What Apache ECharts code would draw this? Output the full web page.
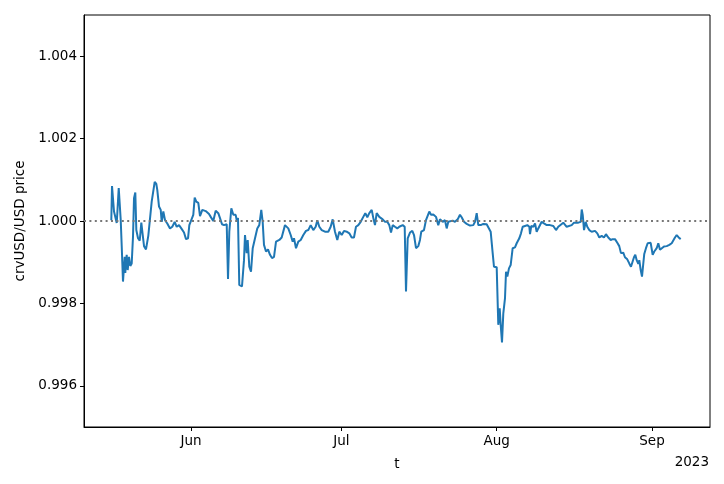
<!DOCTYPE html>
<html>
<head>
<meta charset="utf-8">
<script src="https://cdn.jsdelivr.net/npm/echarts@6/dist/echarts.min.js"></script>
<style>
  html, body { margin: 0; padding: 0; background: #fff; }
  #chart { width: 724px; height: 484px; }
</style>
</head>
<body>
<div id="chart"></div>
<script>
  // days since 2023-05-16 00:00 and the price read at that time
  const startDate = new Date(2023, 4, 16);
  const dayOffsets = [
    0.10, 0.24, 0.50, 0.64, 0.98, 1.18, 1.30, 1.58, 1.78, 1.98,
    2.18, 2.43, 2.77, 2.89, 3.17, 3.37, 3.63, 3.89, 4.17, 4.43,
    4.63, 4.89, 5.09, 5.43, 5.77, 6.09, 6.29, 6.63, 7.02, 7.28,
    7.48, 7.82, 8.16, 8.42, 8.76, 9.08, 9.28, 9.62, 9.96, 10.16,
    10.48, 10.82, 11.27, 11.81, 12.27, 12.75, 13.15, 13.61, 14.07, 14.61,
    15.01, 15.41, 15.67, 16.06, 16.46, 16.74, 17.06, 17.46, 17.80, 18.26,
    18.94, 19.60, 19.94, 20.45, 20.93, 21.45, 21.79, 22.19, 22.59, 23.13,
    23.39, 23.65, 24.05, 24.45, 24.92, 25.12, 25.38, 25.64, 26.18, 26.58,
    26.78, 27.12, 27.32, 27.64, 27.98, 28.32, 28.78, 29.23, 29.63, 30.03,
    30.31, 30.57, 30.97, 31.37, 31.77, 32.17, 32.57, 32.97, 33.63, 34.10,
    34.76, 35.42, 35.90, 36.30, 36.56, 36.96, 37.42, 37.90, 38.42, 38.95,
    39.41, 39.89, 40.41, 40.89, 41.21, 41.61, 42.09, 42.74, 43.40, 43.88,
    44.28, 44.74, 45.20, 45.60, 46.08, 46.54, 47.08, 47.60, 48.07, 48.53,
    48.93, 49.39, 49.87, 50.39, 50.79, 51.19, 51.59, 52.07, 52.39, 52.72,
    53.06, 53.58, 53.72, 54.26, 54.72, 55.18, 55.58, 55.92, 56.26, 56.71,
    57.17, 57.57, 57.91, 58.25, 58.65, 58.91, 59.25, 59.71, 60.17, 60.51,
    60.91, 61.36, 61.70, 61.96, 62.50, 62.90, 63.24, 63.56, 63.90, 64.36,
    64.90, 65.35, 65.69, 66.23, 66.69, 67.03, 67.35, 67.69, 68.23, 68.69,
    69.23, 69.68, 70.02, 70.48, 71.02, 71.68, 72.34, 72.68, 73.02, 73.34,
    73.82, 74.34, 75.01, 75.33, 75.81, 76.21, 76.47, 77.01, 77.33, 77.61,
    77.81, 78.07, 78.33, 78.67, 78.87, 79.13, 79.46, 79.80, 80.20, 80.66,
    81.00, 81.52, 81.86, 82.20, 82.66, 83.12, 83.52, 83.66, 83.92, 84.32,
    84.66, 84.99, 85.31, 85.65, 85.99, 86.45, 86.99, 87.65, 88.31, 88.85,
    89.30, 89.65, 90.30, 90.98, 91.30, 91.98, 92.44, 93.30, 93.78, 93.98,
    94.18, 94.44, 94.77, 95.09, 95.49, 95.97, 96.63, 97.09, 97.49, 97.96,
    98.42, 98.82, 99.28, 99.76, 100.16, 100.62, 101.08, 101.47, 101.81, 102.27,
    102.61, 103.07, 103.47, 103.81, 104.15, 104.41, 104.67, 104.95, 105.27, 105.47,
    105.75, 106.01, 106.27, 106.46, 106.80, 107.14, 107.46, 107.74, 108.14, 108.46,
    108.94, 109.26, 109.60, 109.94, 110.40, 110.94, 111.46, 111.94, 112.25, 112.59,
    112.93, 113.33, 113.73
  ];
  const prices = [
    1.00002, 1.00085, 1.00085, 1.00023, 1.00020, 0.99995, 1.00019, 1.00080, 1.00080, 1.00002,
    0.99938, 0.99853, 0.99913, 0.99874, 0.99918, 0.99881, 0.99913, 0.99891, 0.99897, 0.99962,
    1.00055, 1.00069, 0.99978, 0.99958, 0.99952, 0.99996, 0.99974, 0.99939, 0.99931, 0.99934,
    0.99964, 0.99964, 1.00047, 1.00051, 1.00095, 1.00090, 1.00075, 1.00035, 1.00027, 0.99998,
    1.00023, 1.00002, 0.99994, 0.99982, 0.99986, 0.99998, 0.99986, 0.99990, 0.99982, 0.99972,
    0.99956, 0.99958, 0.99990, 0.99994, 1.00015, 1.00057, 1.00047, 1.00044, 1.00012, 1.00027,
    1.00024, 1.00017, 1.00010, 1.00000, 1.00025, 1.00019, 1.00007, 0.99992, 0.99990, 0.99992,
    0.99859, 0.99974, 1.00031, 1.00015, 1.00015, 1.00002, 1.00007, 0.99845, 0.99841, 0.99905,
    0.99966, 0.99922, 0.99954, 0.99889, 0.99877, 0.99934, 0.99958, 0.99982, 0.99990, 1.00027,
    0.99998, 0.99942, 0.99926, 0.99931, 0.99918, 0.99910, 0.99913, 0.99950, 0.99954, 0.99960,
    0.99990, 0.99982, 0.99966, 0.99950, 0.99958, 0.99934, 0.99950, 0.99954, 0.99966, 0.99976,
    0.99978, 0.99990, 0.99978, 0.99986, 1.00002, 0.99986, 0.99978, 0.99974, 0.99974, 0.99986,
    1.00004, 0.99974, 0.99954, 0.99974, 0.99966, 0.99976, 0.99974, 0.99970, 0.99960, 0.99960,
    0.99986, 0.99990, 0.99998, 1.00010, 1.00019, 1.00009, 1.00019, 1.00027, 1.00007, 0.99990,
    1.00019, 1.00010, 1.00012, 1.00004, 0.99998, 0.99998, 0.99990, 0.99972, 0.99990, 0.99986,
    0.99982, 0.99986, 0.99982, 0.99990, 0.99986, 0.99829, 0.99958, 0.99972, 0.99976, 0.99966,
    0.99934, 0.99939, 0.99954, 0.99974, 0.99978, 1.00002, 1.00004, 1.00023, 1.00015, 1.00016,
    1.00010, 0.99990, 1.00004, 0.99998, 1.00002, 0.99982, 0.99998, 0.99994, 1.00001, 0.99998,
    1.00004, 1.00015, 1.00009, 0.99998, 0.99993, 0.99989, 0.99990, 0.99998, 1.00019, 0.99990,
    0.99990, 0.99993, 0.99992, 0.99990, 0.99974, 0.99922, 0.99889, 0.99888, 0.99748, 0.99788,
    0.99748, 0.99705, 0.99776, 0.99813, 0.99877, 0.99865, 0.99885, 0.99893, 0.99934, 0.99936,
    0.99946, 0.99958, 0.99970, 0.99986, 0.99988, 0.99990, 0.99986, 0.99968, 0.99988, 0.99986,
    0.99994, 0.99974, 0.99982, 0.99980, 0.99998, 0.99994, 0.99990, 0.99990, 0.99988, 0.99978,
    0.99986, 0.99986, 0.99996, 0.99986, 0.99982, 0.99990, 0.99996, 0.99996, 0.99998, 1.00028,
    1.00015, 0.99978, 0.99998, 0.99986, 0.99978, 0.99974, 0.99976, 0.99970, 0.99960, 0.99964,
    0.99960, 0.99968, 0.99960, 0.99954, 0.99956, 0.99956, 0.99947, 0.99939, 0.99922, 0.99923,
    0.99912, 0.99907, 0.99897, 0.99889, 0.99893, 0.99912, 0.99918, 0.99905, 0.99896, 0.99905,
    0.99881, 0.99865, 0.99897, 0.99920, 0.99934, 0.99946, 0.99944, 0.99947, 0.99918, 0.99926,
    0.99934, 0.99946, 0.99930, 0.99934, 0.99938, 0.99939, 0.99942, 0.99946, 0.99950, 0.99960,
    0.99966, 0.99960, 0.99956
  ];
  const pegValue = 1.0;
  // x range (days since start) including matplotlib's 5% margins
  const xRange = [-5.35, 119.58];
  const yRange = [0.995, 1.005];
  const monthNames = ['Jan','Feb','Mar','Apr','May','Jun','Jul','Aug','Sep','Oct','Nov','Dec'];

  const DAY = 86400000;
  const toTime = d => startDate.getTime() + d * DAY;
  const seriesData = dayOffsets.map((d, i) => [toTime(d), prices[i]]);

  const font = 'DejaVu Sans';
  const myChart = echarts.init(document.getElementById('chart'));
  myChart.setOption({
    animation: false,
    backgroundColor: '#fff',
    grid: {
      left: 84, right: 14, top: 15, bottom: 57,
      show: true, borderColor: '#000', borderWidth: 1
    },
    xAxis: {
      type: 'time',
      min: toTime(xRange[0]),
      max: toTime(xRange[1]),
      minInterval: 28 * DAY,
      maxInterval: 31 * DAY,
      splitLine: { show: false },
      axisLine: { lineStyle: { color: '#000', width: 1 } },
      axisTick: { length: 4, lineStyle: { color: '#000' } },
      axisLabel: {
        color: '#000', fontFamily: font, fontSize: 13.5, margin: 7,
        showMinLabel: false, showMaxLabel: false,
        hideOverlap: false,
        formatter: function (value) {
          const dt = new Date(value);
          if (dt.getDate() === 1 && dt.getHours() === 0) return monthNames[dt.getMonth()];
          return '';
        }
      },
      name: 't',
      nameLocation: 'middle',
      nameGap: 30,
      nameTextStyle: { color: '#000', fontFamily: font, fontSize: 13.5 }
    },
    yAxis: {
      type: 'value',
      min: yRange[0],
      max: yRange[1],
      splitNumber: 5,
      splitLine: { show: false },
      axisLine: { show: true, lineStyle: { color: '#000', width: 1 } },
      axisTick: { show: true, length: 4, lineStyle: { color: '#000' } },
      axisLabel: {
        color: '#000', fontFamily: font, fontSize: 13.5, margin: 7,
        showMinLabel: false, showMaxLabel: false,
        formatter: v => v.toFixed(3)
      },
      name: 'crvUSD/USD price',
      nameLocation: 'middle',
      nameRotate: 90,
      nameGap: 57,
      nameTextStyle: { color: '#000', fontFamily: font, fontSize: 13.5 }
    },
    graphic: [{
      type: 'text',
      right: 15,
      top: 455,
      style: { text: '2023', fill: '#000', font: '13.5px "DejaVu Sans"' }
    }],
    series: [{
      type: 'line',
      data: seriesData,
      showSymbol: false,
      lineStyle: { color: '#1f77b4', width: 2 },
      itemStyle: { color: '#1f77b4' },
      markLine: {
        silent: true,
        symbol: 'none',
        label: { show: false },
        lineStyle: { color: '#777', type: [2, 3.4], width: 1.8 },
        data: [{ yAxis: pegValue }]
      }
    }]
  });
</script>
</body>
</html>
